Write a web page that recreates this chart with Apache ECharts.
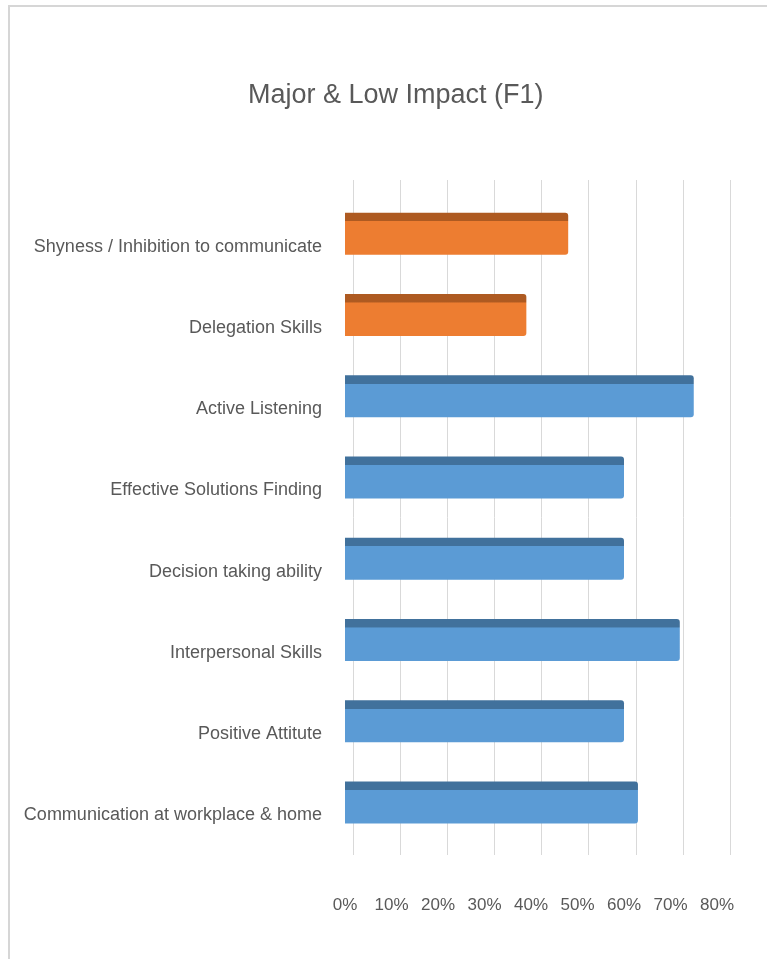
<!DOCTYPE html>
<html>
<head>
<meta charset="utf-8">
<title>Major &amp; Low Impact (F1)</title>
<script src="https://cdn.jsdelivr.net/npm/echarts@6/dist/echarts.min.js"></script>
<style>
    html, body { margin: 0; padding: 0; background: #fff; }
    #chart { width: 767px; height: 959px; }
</style>
</head>
<body>
<div id="chart"></div>
<script>
const TITLE = 'Major & Low Impact (F1)';
const categories = [
    'Shyness / Inhibition to communicate',
    'Delegation Skills',
    'Active Listening',
    'Effective Solutions Finding',
    'Decision taking ability',
    'Interpersonal Skills',
    'Positive Attitute',
    'Communication at workplace & home'
];
// percent values, split by impact group (null = not in that group)
const lowImpact = [48, 39, null, null, null, null, null, null];
const majorImpact = [null, null, 75, 60, 60, 72, 60, 63];
const tickValues = [0, 10, 20, 30, 40, 50, 60, 70, 80];

const FONT = '"Liberation Sans", Arial, sans-serif';
const TEXT = '#595959';

function faceGradient(top, front) {
    return {
        type: 'linear', x: 0, y: 0, x2: 0, y2: 1,
        colorStops: [
            { offset: 0, color: top },
            { offset: 0.2, color: top },
            { offset: 0.21, color: front },
            { offset: 1, color: front }
        ]
    };
}

const plainGrid = { containLabel: false, outerBoundsMode: 'none' };

const chart = echarts.init(document.getElementById('chart'));
chart.setOption({
    backgroundColor: '#fff',
    animation: false,
    title: {
        text: TITLE,
        left: 243,
        top: 77,
        textStyle: { fontFamily: FONT, fontSize: 27, fontWeight: 'normal', color: TEXT }
    },
    graphic: [{
        type: 'rect',
        shape: { x: 9, y: 6, width: 800, height: 1000 },
        style: { fill: 'none', stroke: '#d6d6d6', lineWidth: 2 },
        silent: true
    }],
    grid: [
        // back wall with the gridlines
        { ...plainGrid, left: 353, right: 37, top: 180, bottom: 104 },
        // bars and percent labels
        { ...plainGrid, left: 345, right: 50, top: 193, bottom: 116 },
        // category labels, sitting a little lower than the bars (3D look)
        { ...plainGrid, left: 345, right: 50, top: 206, bottom: 103 }
    ],
    xAxis: [{
        gridIndex: 0,
        type: 'value',
        min: tickValues[0],
        max: tickValues[tickValues.length - 1],
        interval: 10,
        axisLine: { show: false },
        axisTick: { show: false },
        axisLabel: { show: false },
        splitLine: { lineStyle: { color: '#d9d9d9', width: 1 } }
    }, {
        gridIndex: 1,
        type: 'value',
        min: tickValues[0],
        max: tickValues[tickValues.length - 1],
        interval: 10,
        axisLine: { show: false },
        axisTick: { show: false },
        splitLine: { show: false },
        axisLabel: {
            margin: 54,
            fontFamily: FONT,
            fontSize: 17,
            color: TEXT,
            formatter: v => v + '%'
        }
    }, {
        gridIndex: 2,
        type: 'value',
        min: 0,
        max: 80,
        show: false
    }],
    yAxis: [{
        gridIndex: 0,
        type: 'category',
        data: categories,
        inverse: true,
        show: false
    }, {
        gridIndex: 1,
        type: 'category',
        data: categories,
        inverse: true,
        axisLine: { show: false },
        axisTick: { show: false },
        axisLabel: { show: false }
    }, {
        gridIndex: 2,
        type: 'category',
        data: categories,
        inverse: true,
        axisLine: { show: false },
        axisTick: { show: false },
        axisLabel: {
            margin: 23,
            fontFamily: FONT,
            fontSize: 18,
            color: TEXT
        }
    }],
    series: [{
        name: 'Low Impact',
        type: 'bar',
        xAxisIndex: 1,
        yAxisIndex: 1,
        data: lowImpact,
        barWidth: 42,
        barGap: '-100%',
        itemStyle: {
            color: faceGradient('#ae5a21', '#ed7d31'),
            borderRadius: [0, 3, 3, 0]
        }
    }, {
        name: 'Major Impact',
        type: 'bar',
        xAxisIndex: 1,
        yAxisIndex: 1,
        data: majorImpact,
        barWidth: 42,
        barGap: '-100%',
        itemStyle: {
            color: faceGradient('#41719c', '#5b9bd5'),
            borderRadius: [0, 3, 3, 0]
        }
    }]
});

window.addEventListener('resize', () => {
    chart.resize();
});
</script>
</body>
</html>
